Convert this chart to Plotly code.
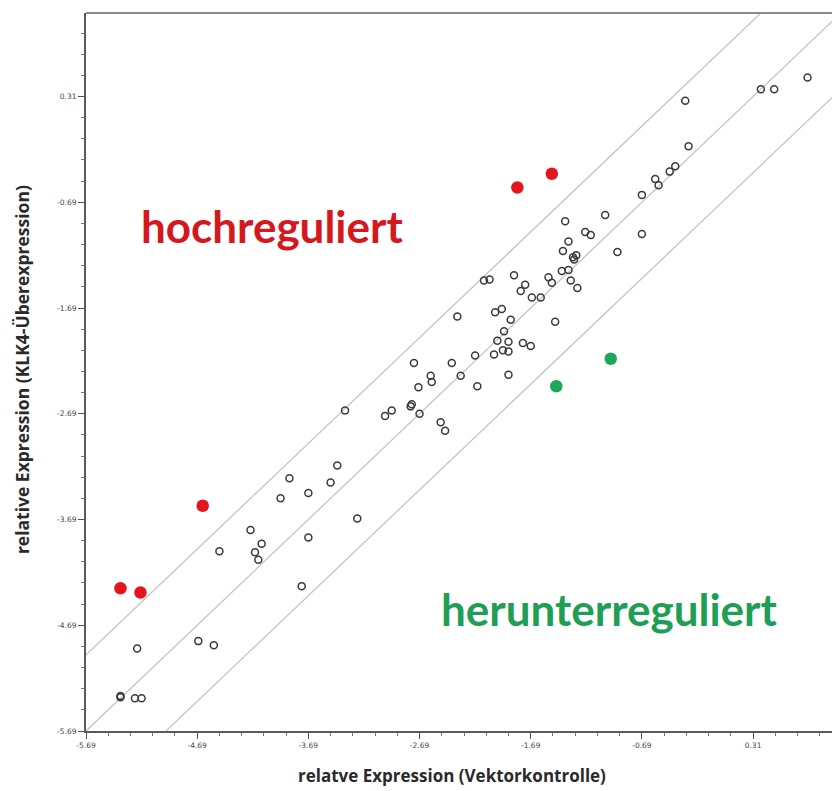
import plotly.graph_objects as go

# ---- data ----
ctrl_x = [0.80, 0.38, 0.50, -0.30, -0.27, -0.39, -0.44, -0.57, -0.54, -0.69,
          -1.02, -1.38, -1.20, -1.15, -0.69, -1.35, -1.40, -0.91, -1.31, -1.30,
          -1.28, -1.41, -1.35, -1.53, -1.50, -1.33, -1.27, -1.84, -2.11, -2.06,
          -1.74, -1.78, -1.68, -1.60, -2.35, -2.01, -1.95, -1.87, -1.47, -1.93,
          -1.99, -1.89, -1.76, -1.69, -2.02, -1.94, -1.89, -2.19, -2.40, -2.74,
          -2.59, -2.58, -2.32, -1.89, -2.70, -2.17, -2.77, -2.76, -2.69, -2.50,
          -2.46, -3.36, -3.00, -2.94, -3.43, -3.49, -3.86, -3.69, -3.94, -3.25,
          -4.21, -3.69, -4.11, -4.17, -4.14, -4.49, -3.75, -4.68, -4.54, -5.23,
          -5.38, -5.38, -5.25, -5.19]
klk4_y = [0.49, 0.38, 0.38, 0.27, -0.16, -0.35, -0.40, -0.47, -0.53, -0.62,
          -0.81, -0.87, -0.97, -1.00, -0.99, -1.06, -1.15, -1.16, -1.21, -1.23,
          -1.19, -1.34, -1.33, -1.40, -1.45, -1.43, -1.50, -1.38, -1.43, -1.42,
          -1.47, -1.53, -1.59, -1.59, -1.77, -1.73, -1.70, -1.80, -1.82, -1.91,
          -2.00, -2.01, -2.02, -2.05, -2.13, -2.09, -2.10, -2.14, -2.21, -2.21,
          -2.33, -2.39, -2.33, -2.32, -2.44, -2.43, -2.62, -2.60, -2.69, -2.77,
          -2.85, -2.66, -2.71, -2.66, -3.18, -3.34, -3.30, -3.44, -3.49, -3.68,
          -3.79, -3.86, -3.92, -4.00, -4.07, -3.99, -4.32, -4.84, -4.88, -4.91,
          -5.37, -5.36, -5.38, -5.38]

up_x = [-1.50, -1.81, -4.64, -5.38, -5.20]
up_y = [-0.42, -0.55, -3.56, -4.34, -4.38]

down_x = [-0.97, -1.46]
down_y = [-2.17, -2.43]

tick_vals = [-5.69, -4.69, -3.69, -2.69, -1.69, -0.69, 0.31]
tick_text = ["-5.69", "-4.69", "-3.69", "-2.69", "-1.69", "-0.69", "0.31"]

line_offsets = [0.72, 0.0, -0.72]

x_range = [-5.69, 1.02]
y_range = [-5.69, 1.10]

fig = go.Figure()

for off in line_offsets:
    fig.add_trace(go.Scatter(
        x=[x_range[0] - 1, x_range[1] + 1],
        y=[x_range[0] - 1 + off, x_range[1] + 1 + off],
        mode="lines", line=dict(color="#c4c4c4", width=1.3),
        hoverinfo="skip", showlegend=False))

fig.add_trace(go.Scatter(
    x=ctrl_x, y=klk4_y, mode="markers",
    marker=dict(symbol="circle-open", size=7, color="#3a3a3a",
                line=dict(width=1.5, color="#3a3a3a")),
    showlegend=False))

fig.add_trace(go.Scatter(
    x=up_x, y=up_y, mode="markers",
    marker=dict(symbol="circle", size=12.5, color="#e6141c"),
    showlegend=False))

fig.add_trace(go.Scatter(
    x=down_x, y=down_y, mode="markers",
    marker=dict(symbol="circle", size=12.5, color="#1ea65a"),
    showlegend=False))

axis_common = dict(
    tickvals=tick_vals, ticktext=tick_text,
    ticks="outside", ticklen=6, tickwidth=1.2, tickcolor="#555",
    showline=True, linecolor="#5a5a5a", linewidth=2,
    showgrid=False, zeroline=False,
    tickfont=dict(family="DejaVu Sans", size=7.5, color="#444"),
    minor=dict(ticks="outside", ticklen=3, tickwidth=1, tickcolor="#777",
               dtick=0.2, tick0=-5.69, showgrid=False),
)

fig.update_xaxes(range=x_range, **axis_common)
fig.update_yaxes(range=y_range, **axis_common)

fig.add_shape(type="line", xref="paper", yref="paper", x0=0, x1=1, y0=1, y1=1,
              line=dict(color="#8a8a8a", width=2))

fig.add_annotation(text="hochreguliert", xref="x", yref="y", x=-4.02, y=-0.91,
                   showarrow=False,
                   font=dict(family="Lato", size=44, color="#d5171e", weight="bold"))
fig.add_annotation(text="herunterreguliert", xref="x", yref="y", x=-0.99, y=-4.54,
                   showarrow=False,
                   font=dict(family="Lato", size=44, color="#1f9e55", weight="bold"))

fig.add_annotation(text="relatve Expression (Vektorkontrolle)", xref="paper", yref="paper",
                   x=0.49, y=-0.0625, yanchor="middle", showarrow=False,
                   font=dict(family="Open Sans", size=17, color="#2a2a2a", weight="bold"))
fig.add_annotation(text="relative Expression (KLK4-Überexpression)", xref="paper", yref="paper",
                   x=-0.0858, y=0.504, xanchor="center", yanchor="middle", textangle=-90,
                   showarrow=False,
                   font=dict(family="Open Sans", size=17.5, color="#2a2a2a", weight="bold"))

fig.update_layout(
    width=832, height=791,
    margin=dict(l=86, r=0, t=13, b=60),
    paper_bgcolor="white", plot_bgcolor="white",
    showlegend=False,
)

fig.write_html("out.html")
